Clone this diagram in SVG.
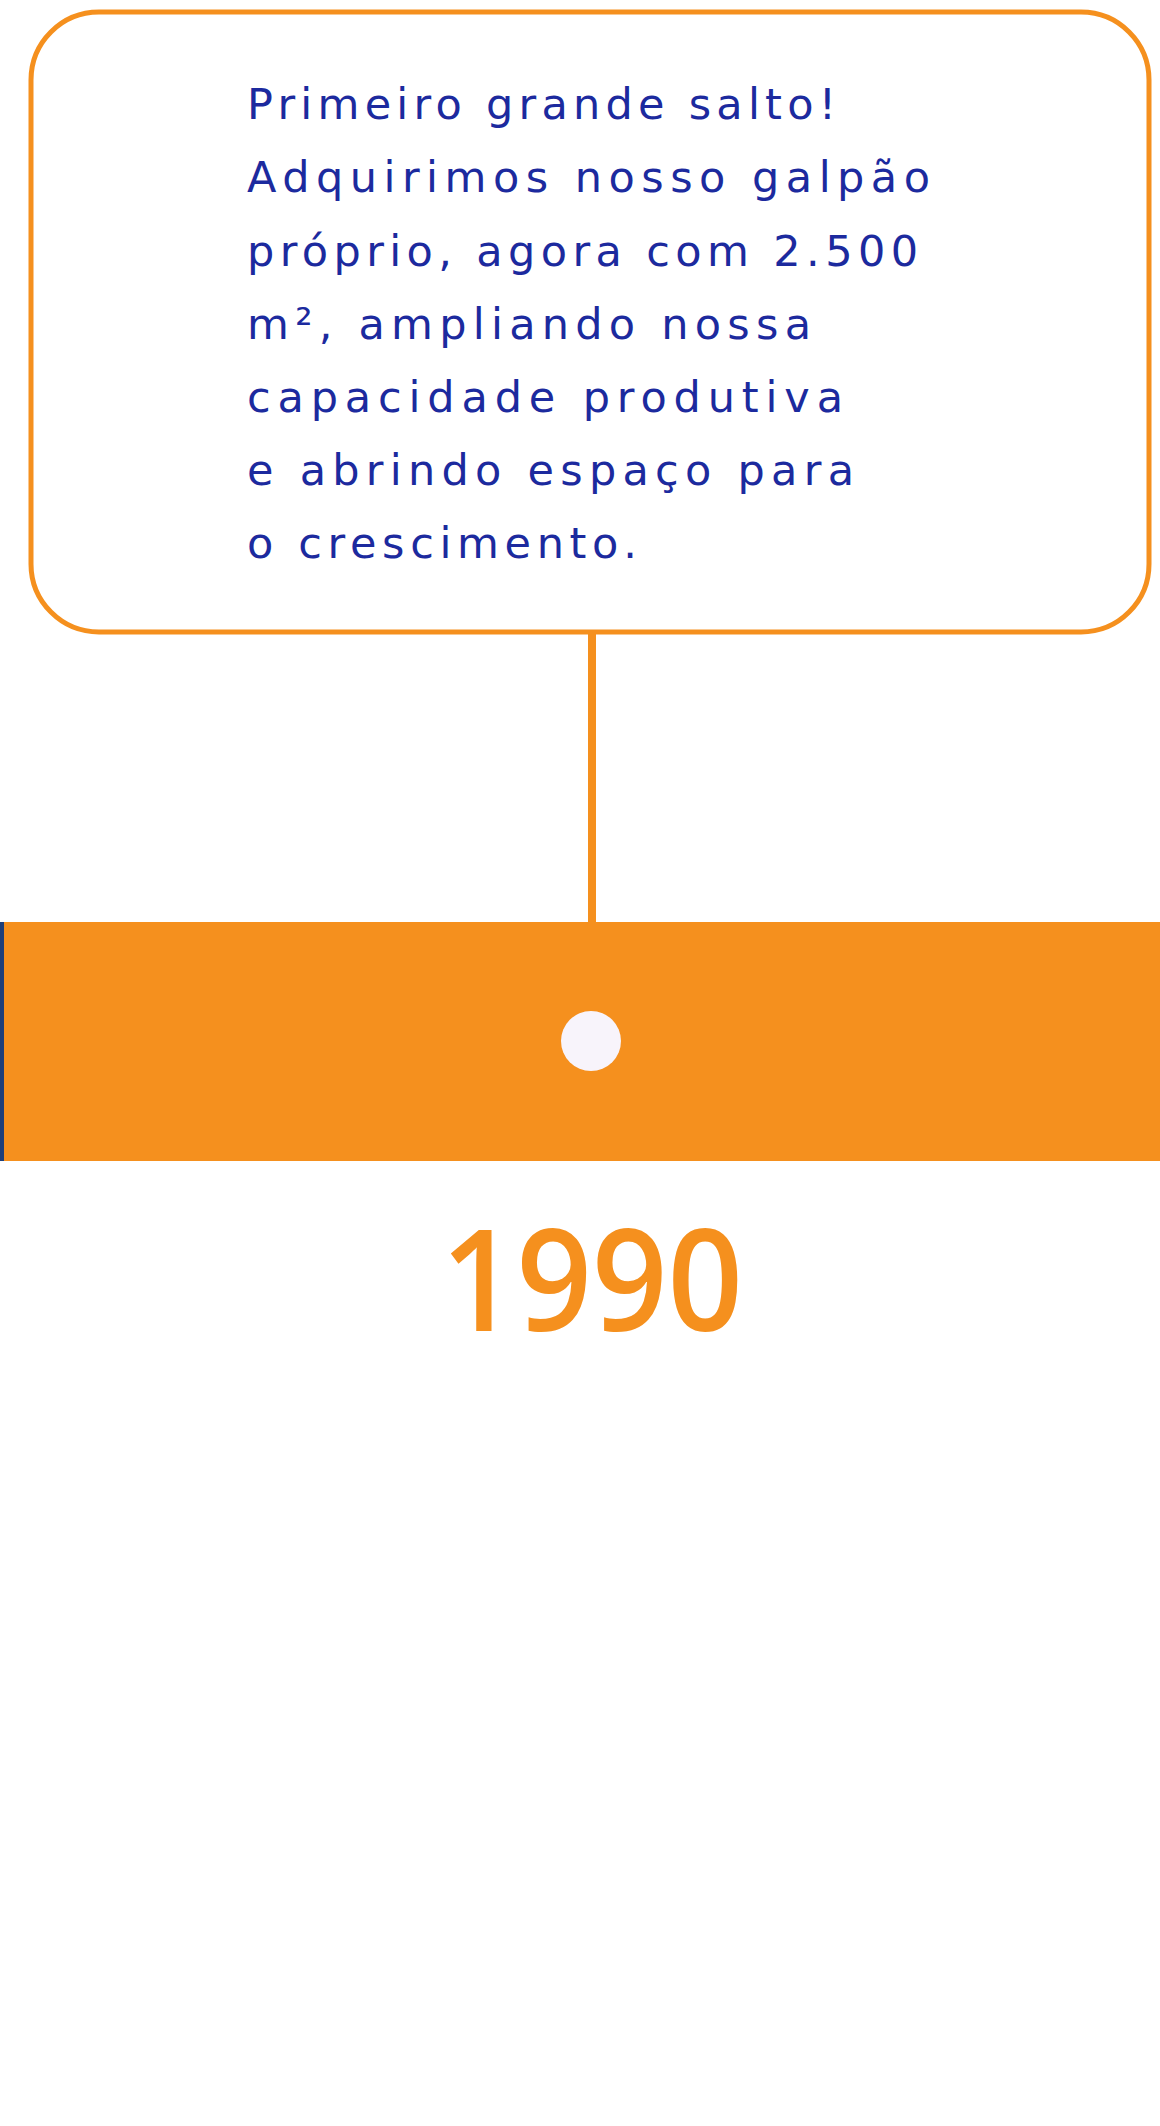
<svg xmlns="http://www.w3.org/2000/svg" width="1160" height="2126" viewBox="0 0 1160 2126">
<style>
.t{font-family:"DejaVu Sans","Liberation Sans",sans-serif;font-weight:500;font-size:43px;fill:#1c2a9e}
.y{font-family:"Open Sans","Liberation Sans",sans-serif;font-weight:600;font-size:142px;fill:#f5901e}
</style>
<rect width="1160" height="2126" fill="#ffffff"/>
<g id="card">
<rect x="31" y="12" width="1118" height="620" rx="68" fill="#ffffff" stroke="#f5901e" stroke-width="5"/>
<text class="t" x="247" y="119" textLength="589" lengthAdjust="spacing">Primeiro grande salto!</text>
<text class="t" x="247" y="192" textLength="683" lengthAdjust="spacing">Adquirimos nosso galpão</text>
<text class="t" x="247" y="266" textLength="671" lengthAdjust="spacing">próprio, agora com 2.500</text>
<text class="t" x="247" y="339" textLength="564" lengthAdjust="spacing">m², ampliando nossa</text>
<text class="t" x="247" y="412" textLength="596" lengthAdjust="spacing">capacidade produtiva</text>
<text class="t" x="247" y="485" textLength="607" lengthAdjust="spacing">e abrindo espaço para</text>
<text class="t" x="247" y="558" textLength="390" lengthAdjust="spacing">o crescimento.</text>
</g>
<g id="connectors">
<line x1="592" y1="634" x2="592" y2="924" stroke="#f5901e" stroke-width="8"/>
</g>
<g id="band">
<rect x="0" y="922" width="1160" height="239" fill="#f5901e"/>
<rect x="0" y="922" width="4" height="239" fill="#1e3f7a"/>
<circle cx="591" cy="1041" r="30" fill="#f8f4fb"/>
</g>
<g id="year">
<text class="y" x="441" y="1331" textLength="302" lengthAdjust="spacingAndGlyphs">1990</text>
</g>
</svg>
